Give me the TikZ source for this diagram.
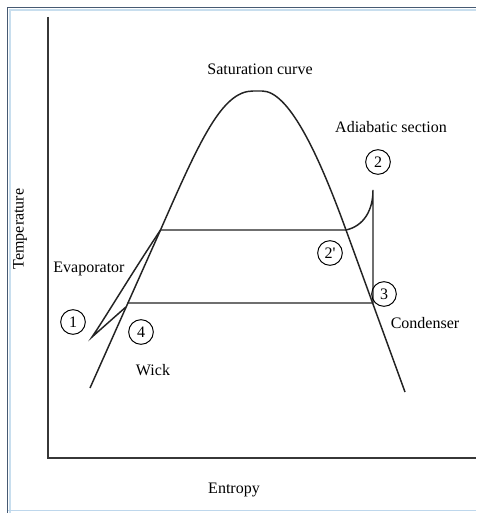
\documentclass[tikz,border=0pt]{standalone}
\usepackage{fontspec}
\setmainfont{Liberation Serif}
\usepackage{tikz}
\usetikzlibrary{shapes}

\begin{document}
\begin{tikzpicture}[x=0.75pt,y=0.75pt,yscale=-1,xscale=1,
  curveline/.style={color={rgb, 255:red, 35; green, 35; blue, 35 }, line width=1.1},
  state/.style={circle, draw, line width=0.75, inner sep=0.5pt, minimum size=18.5pt, font=\fontsize{12}{14}\selectfont},
  lbl/.style={inner sep=0.75pt, font=\fontsize{12}{14}\selectfont}]
\useasboundingbox (0,0) rectangle (476,513);
\fill [white] (0,0) rectangle (476,513);
\draw [color={rgb, 255:red, 200; green, 222; blue, 238 }, line width=1.2] (10,513) -- (10,10) -- (476,10) ;
\draw [color={rgb, 255:red, 190; green, 215; blue, 236 }, line width=1.2] (8,510.5) -- (476,510.5) ;
\draw [color={rgb, 255:red, 70; green, 90; blue, 115 }, line width=1.3] (7.5,513) -- (7.5,7.5) -- (476,7.5) ;
\draw [color={rgb, 255:red, 55; green, 55; blue, 55 }, line width=1.4] (48,17) -- (48,458) -- (476,458) ;

\coordinate (lowL) at (90,388) ;
\coordinate (liqTop) at (160.5,230) ;
\coordinate (topL) at (253,91) ;
\coordinate (topR) at (262,91) ;
\coordinate (vapTop) at (346,230) ;
\coordinate (vapLow) at (373,303) ;
\coordinate (lowR) at (405,392) ;
\coordinate (liqLow) at (127.7,303) ;
\coordinate (wickEnd) at (125.9,307) ;
\coordinate (tip) at (92,337) ;
\coordinate (superTop) at (373,190) ;

\draw [curveline] (lowL) -- (liqTop) .. controls (200,140) and (222,91) .. (topL) -- (topR) .. controls (288,91) and (317,150) .. (vapTop) -- (lowR) ;
\draw [curveline] (liqTop) -- (vapTop) .. controls (364,226) and (373,210) .. (superTop) -- (vapLow) -- (liqLow) ;
\draw [curveline] (liqTop) .. controls (130,276) and (105,318) .. (tip) -- (wickEnd) ;

\node [state] (st1) at (73,322) {1};
\node [state] (st2) at (378,162) {2};
\node [state] (st2p) at (330,253) {2\textquotesingle};
\node [state] (st3) at (384,294) {3};
\node [state] (st4) at (141,332) {4};

\node [lbl] (satText) at (260,69) {Saturation curve};
\node [lbl] (adiText) at (391,127) {Adiabatic section};
\node [lbl] (evaText) at (89,269) {Evaporator};
\node [lbl] (conText) at (425,323) {Condenser};
\node [lbl] (wickText) at (153,370) {Wick};
\node [lbl] (xText) at (234,490) {Entropy};
\node [lbl, rotate=90] (yText) at (20,229) {Temperature};
\end{tikzpicture}
\end{document}
